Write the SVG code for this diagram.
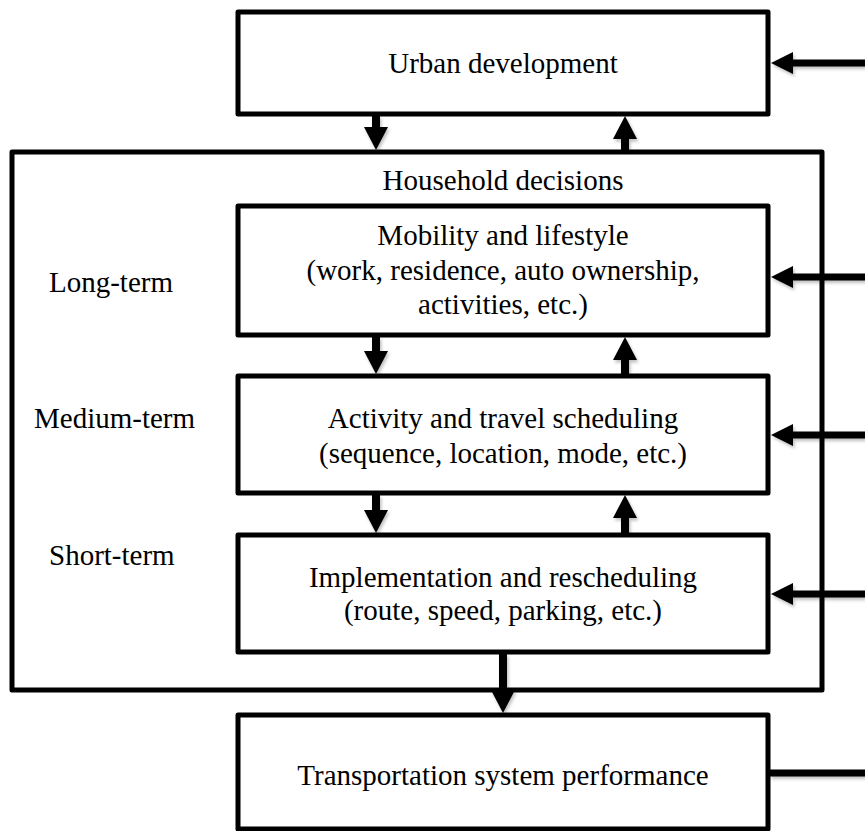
<svg xmlns="http://www.w3.org/2000/svg" width="865" height="831" viewBox="0 0 865 831">
<style>
.box{fill:#fff;stroke:#000;stroke-width:5;stroke-linejoin:round}
.frame{fill:none;stroke:#000;stroke-width:5;stroke-linejoin:round}
.t{font-family:"Liberation Serif","Times New Roman",serif;font-size:29px;fill:#000}
.c{text-anchor:middle}
.v{stroke:#000;stroke-width:8;fill:none}
.h{stroke:#000;stroke-width:7;fill:none}
</style>
<defs>
<marker id="av" markerUnits="userSpaceOnUse" markerWidth="24" markerHeight="24" refX="1" refY="12" orient="auto" viewBox="0 0 24 24">
<path d="M0,0 L23,12 L0,24 z" fill="#000"/>
</marker>
<marker id="ah" markerUnits="userSpaceOnUse" markerWidth="23" markerHeight="22" refX="1" refY="11" orient="auto" viewBox="0 0 23 22">
<path d="M0,0 L22,11 L0,22 z" fill="#000"/>
</marker>
<filter id="sh" x="-20%" y="-20%" width="140%" height="160%">
<feDropShadow dx="1.5" dy="2.5" stdDeviation="1.5" flood-color="#000" flood-opacity="0.25"/>
</filter>
</defs>

<g id="household">
<rect class="frame" x="12" y="152" width="810" height="538"/>
<text class="t c" x="503" y="190">Household decisions</text>
<text class="t" x="49" y="292">Long-term</text>
<text class="t" x="34" y="428">Medium-term</text>
<text class="t" x="49" y="565">Short-term</text>
</g>

<g id="urban">
<rect class="box" x="238" y="12" width="530" height="102"/>
<text class="t c" x="503" y="73">Urban development</text>
</g>

<g id="mobility">
<rect class="box" x="238" y="206" width="530" height="129"/>
<text class="t c" x="503" y="245">Mobility and lifestyle</text>
<text class="t c" x="503" y="280">(work, residence, auto ownership,</text>
<text class="t c" x="503" y="314">activities, etc.)</text>
</g>

<g id="activity">
<rect class="box" x="238" y="376" width="530" height="117"/>
<text class="t c" x="503" y="428">Activity and travel scheduling</text>
<text class="t c" x="503" y="463">(sequence, location, mode, etc.)</text>
</g>

<g id="implementation">
<rect class="box" x="238" y="535" width="530" height="117"/>
<text class="t c" x="503" y="587">Implementation and rescheduling</text>
<text class="t c" x="503" y="620">(route, speed, parking, etc.)</text>
</g>

<g id="transport">
<rect class="box" x="238" y="715" width="530" height="114"/>
<text class="t c" x="503" y="785">Transportation system performance</text>
</g>

<g id="connectors" filter="url(#sh)">
<line class="v" x1="376" y1="116" x2="376" y2="128" marker-end="url(#av)"/>
<line class="v" x1="625" y1="150" x2="625" y2="138" marker-end="url(#av)"/>
<line class="v" x1="376" y1="337" x2="376" y2="352" marker-end="url(#av)"/>
<line class="v" x1="625" y1="374" x2="625" y2="359" marker-end="url(#av)"/>
<line class="v" x1="376" y1="495" x2="376" y2="511" marker-end="url(#av)"/>
<line class="v" x1="625" y1="533" x2="625" y2="517" marker-end="url(#av)"/>
<line class="v" x1="503" y1="654" x2="503" y2="691" marker-end="url(#av)"/>
<line class="h" x1="865" y1="63" x2="792" y2="63" marker-end="url(#ah)"/>
<line class="h" x1="865" y1="277" x2="792" y2="277" marker-end="url(#ah)"/>
<line class="h" x1="865" y1="435" x2="792" y2="435" marker-end="url(#ah)"/>
<line class="h" x1="865" y1="594" x2="792" y2="594" marker-end="url(#ah)"/>
<line class="h" x1="770" y1="773" x2="865" y2="773"/>
</g>
</svg>
